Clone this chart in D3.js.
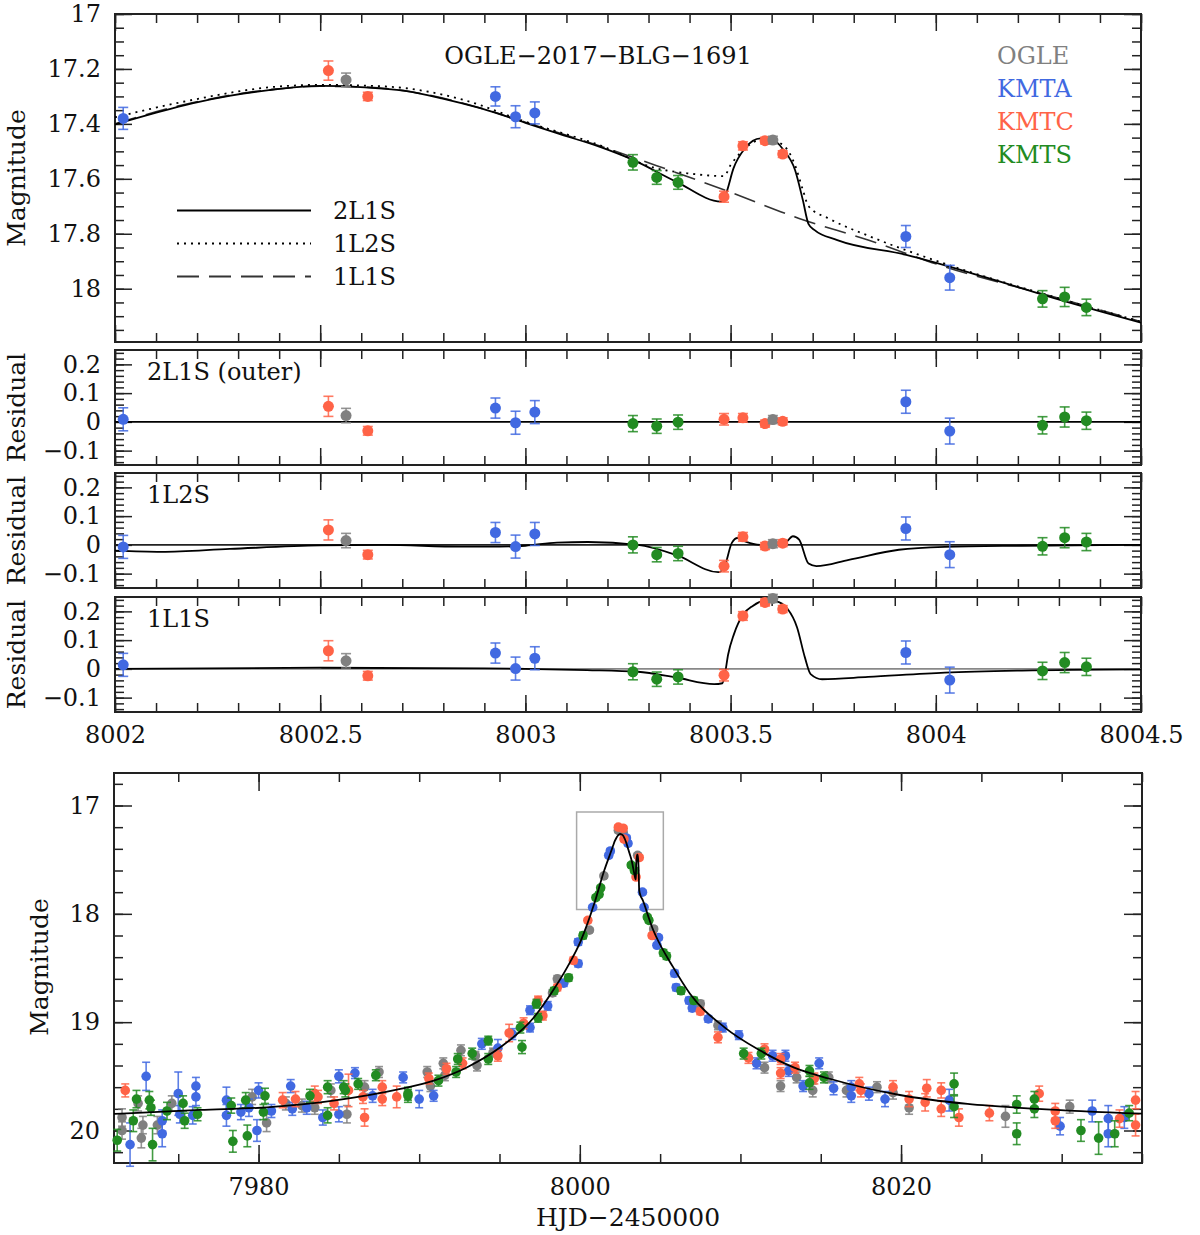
<!DOCTYPE html>
<html>
<head>
<meta charset="utf-8">
<script src="https://cdn.jsdelivr.net/npm/d3@7"></script>
<style>
  body { margin: 0; background: #fff; }
  svg text { font-family: "DejaVu Serif", serif; }
</style>
</head>
<body>
<script>
// ---- data: zoom on the anomaly (top + residual panels) ----
const zoomSurvey = ["KMTA","KMTC","OGLE","KMTC","KMTA","KMTA","KMTA","KMTS","KMTS","KMTS",
                    "KMTC","KMTC","KMTC","OGLE","KMTC","KMTA","KMTA","KMTS","KMTS","KMTS"];
const zoomT   = [8002.02, 8002.52, 8002.563, 8002.616, 8002.927, 8002.976, 8003.023, 8003.262, 8003.32, 8003.372,
                 8003.484, 8003.53, 8003.584, 8003.603, 8003.627, 8003.927, 8004.034, 8004.26, 8004.314, 8004.367];
const zoomMag = [17.38, 17.206, 17.24, 17.30, 17.30, 17.374, 17.36, 17.54, 17.595, 17.613,
                 17.665, 17.48, 17.461, 17.459, 17.51, 17.81, 17.96, 18.037, 18.03, 18.068];
const zoomErr = [0.04, 0.035, 0.025, 0.015, 0.035, 0.04, 0.04, 0.028, 0.025, 0.025,
                 0.02, 0.015, 0.012, 0.014, 0.012, 0.04, 0.045, 0.03, 0.035, 0.03];
const res2L1S = [0.009, 0.054, 0.022, -0.031, 0.048, -0.003, 0.034, -0.006, -0.015, -0.001,
                 0.009, 0.014, -0.006, 0.008, 0.002, 0.07, -0.032, -0.012, 0.017, 0.004];
const res1L2S = [-0.007, 0.052, 0.015, -0.034, 0.043, -0.006, 0.038, 0.0, -0.034, -0.03,
                 -0.074, 0.028, -0.004, 0.004, 0.006, 0.057, -0.034, -0.005, 0.025, 0.01];
const res1L1S = [0.014, 0.063, 0.028, -0.024, 0.055, 0.001, 0.037, -0.01, -0.036, -0.028,
                 -0.022, 0.184, 0.231, 0.245, 0.208, 0.057, -0.039, -0.007, 0.022, 0.007];

// model curves
const m2L1S_t = [8002.0, 8002.094, 8002.188, 8002.282, 8002.375, 8002.5, 8002.609, 8002.703, 8002.796, 8002.89,
                 8003.0, 8003.077, 8003.18, 8003.262, 8003.367, 8003.477, 8003.489, 8003.507, 8003.535, 8003.573,
                 8003.597, 8003.629, 8003.657, 8003.676, 8003.69, 8003.704, 8003.76, 8003.928, 8004.116, 8004.303, 8004.5];
const m2L1S_m = [17.402, 17.362, 17.325, 17.297, 17.277, 17.262, 17.267, 17.279, 17.307, 17.343,
                 17.396, 17.434, 17.483, 17.531, 17.61, 17.683, 17.653, 17.562, 17.489, 17.453,
                 17.453, 17.495, 17.568, 17.677, 17.765, 17.786, 17.823, 17.877, 17.956, 18.041, 18.124];
const m1L2S_t = [8002.0, 8002.188, 8002.375, 8002.5, 8002.66, 8002.85, 8003.0, 8003.18, 8003.32, 8003.395,
                 8003.484, 8003.5, 8003.53, 8003.585, 8003.63, 8003.657, 8003.676, 8003.69, 8003.74, 8003.835,
                 8004.022, 8004.3, 8004.5];
const m1L2S_m = [17.376, 17.313, 17.267, 17.258, 17.264, 17.313, 17.392, 17.477, 17.562, 17.58,
                 17.59, 17.55, 17.497, 17.453, 17.48, 17.55, 17.64, 17.70, 17.745, 17.807,
                 17.909, 18.035, 18.12];
const m1L1S_t = [8002.0, 8002.188, 8002.375, 8002.5, 8002.609, 8002.703, 8002.796, 8002.89, 8003.0, 8003.18,
                 8003.32, 8003.489, 8003.667, 8003.835, 8004.022, 8004.3, 8004.5];
const m1L1S_m = [17.400, 17.323, 17.276, 17.263, 17.266, 17.279, 17.305, 17.342, 17.394, 17.48,
                 17.552, 17.643, 17.744, 17.823, 17.92, 18.035, 18.12];

// residual model curves
const r1L2S_t = [8002.0, 8002.113, 8002.28, 8002.5, 8002.656, 8002.843, 8002.937, 8003.0, 8003.077, 8003.152,
                 8003.274, 8003.367, 8003.47, 8003.484, 8003.503, 8003.517, 8003.535, 8003.573, 8003.629, 8003.652,
                 8003.667, 8003.69, 8003.709, 8003.788, 8003.91, 8004.022, 8004.209, 8004.5];
const r1L2S_v = [-0.02, -0.024, -0.014, -0.002, 0.0, -0.006, -0.006, -0.003, 0.008, 0.01,
                 0.0, -0.035, -0.095, -0.08, 0.007, 0.024, 0.012, 0.0, 0.002, 0.03,
                 0.018, -0.065, -0.074, -0.052, -0.017, -0.007, -0.003, 0.0];
const r1L1S_t = [8002.0, 8002.5, 8002.9, 8003.0, 8003.15, 8003.274, 8003.367, 8003.46, 8003.48, 8003.486,
                 8003.494, 8003.508, 8003.53, 8003.554, 8003.582, 8003.61, 8003.639, 8003.662, 8003.681, 8003.695,
                 8003.723, 8003.835, 8004.022, 8004.21, 8004.5];
const r1L1S_v = [0.0, 0.004, 0.002, 0.0, -0.004, -0.01, -0.03, -0.053, -0.05, -0.019,
                 0.05, 0.12, 0.188, 0.219, 0.237, 0.235, 0.208, 0.144, 0.04, -0.018,
                 -0.036, -0.028, -0.013, -0.006, -0.002];

// ---- data: full light curve (bottom panel), [HJD', mag, err] ----
const ogleData = [[7971.5,19.88,0.08],[7971.5,20.0,0.08],[7972.5,19.75,0.07],[7972.7,20.07,0.09],[7972.8,19.95,0.08],
  [7973.7,19.95,0.08],[7974.6,19.75,0.07],[7979.6,19.69,0.07],[7980.5,19.93,0.08],[7981.7,19.75,0.06],
  [7982.7,19.77,0.06],[7983.5,19.79,0.06],[7984.5,19.63,0.06],[7985.5,19.85,0.08],[7986.6,19.60,0.06],
  [7987.5,19.46,0.05],[7990.5,19.46,0.05],[7990.7,19.59,0.05],[7991.5,19.38,0.05],[7991.6,19.49,0.05],
  [7992.6,19.26,0.05],[7993.5,19.31,0.04],[7993.6,19.40,0.05],[7994.6,19.28,0.04],[7998.3,18.73,0.03],
  [7998.6,18.60,0.03],[8000.6,18.15,0.02],[8001.5,17.65,0.02],[8002.4,17.23,0.02],[8002.7,17.25,0.02],
  [8003.6,17.46,0.02],[8004.6,18.14,0.02],[8007.5,18.83,0.03],[8008.6,19.03,0.04],[8011.5,19.42,0.05],
  [8012.5,19.59,0.05],[8013.5,19.51,0.05],[8014.5,19.63,0.06],[8015.5,19.51,0.05],[8016.6,19.63,0.06],
  [8018.5,19.60,0.05],[8019.5,19.65,0.06],[8020.5,19.79,0.06],[8026.5,19.87,0.1],[8030.5,19.78,0.06]];
const kmtaData = [[7972.0,20.13,0.2],[7973.0,19.50,0.13],[7974.0,19.91,0.1],[7974.0,20.03,0.12],[7975.0,19.66,0.2],
  [7975.1,19.85,0.08],[7975.9,19.86,0.08],[7976.1,19.59,0.08],[7976.1,19.69,0.08],[7978.0,19.72,0.12],
  [7978.0,19.86,0.1],[7978.9,19.83,0.07],[7979.4,19.79,0.08],[7980.0,19.63,0.07],[7979.9,20.0,0.1],
  [7980.8,19.82,0.06],[7982.0,19.59,0.06],[7982.1,19.80,0.06],[7983.0,19.79,0.06],[7984.0,19.88,0.07],
  [7985.0,19.50,0.06],[7985.0,19.85,0.07],[7986.0,19.47,0.05],[7987.1,19.68,0.06],[7989.0,19.51,0.05],
  [7990.0,19.71,0.08],[7990.9,19.68,0.05],[7993.9,19.20,0.05],[7994.9,19.24,0.08],[7995.8,19.11,0.05],
  [7996.9,19.05,0.04],[7996.9,18.89,0.04],[7998.0,18.85,0.04],[7999.0,18.64,0.03],[7999.9,18.46,0.03],
  [7999.9,18.26,0.03],[8000.8,17.94,0.02],[8001.8,17.46,0.02],[8001.9,17.42,0.02],[8002.9,17.30,0.02],
  [8003.0,17.35,0.02],[8003.9,17.80,0.02],[8004.0,17.94,0.02],[8004.9,18.22,0.02],[8004.8,18.29,0.02],
  [8005.9,18.55,0.03],[8006.0,18.68,0.03],[8006.8,18.80,0.03],[8007.0,18.87,0.03],[8008.0,18.97,0.03],
  [8008.9,19.05,0.04],[8009.9,19.12,0.04],[8011.0,19.38,0.05],[8012.0,19.31,0.05],[8012.8,19.31,0.05],
  [8013.0,19.45,0.05],[8013.9,19.59,0.05],[8014.9,19.38,0.05],[8015.8,19.61,0.06],[8016.9,19.60,0.06],
  [8016.9,19.68,0.06],[8018.0,19.66,0.06],[8019.0,19.71,0.07],[8023.0,19.72,0.1],[8029.9,19.96,0.08],
  [8031.9,19.82,0.1],[8032.9,19.89,0.12],[8032.9,20.03,0.12],[8033.9,19.88,0.1]];
const kmtcData = [[7971.7,19.63,0.06],[7981.5,19.72,0.07],[7982.3,19.71,0.07],[7983.5,19.66,0.07],[7983.7,19.69,0.06],
  [7984.7,19.75,0.06],[7985.6,19.63,0.15],[7986.5,19.69,0.06],[7986.6,19.88,0.08],[7987.7,19.71,0.06],
  [7987.7,19.60,0.06],[7988.6,19.69,0.1],[7990.6,19.52,0.05],[7991.7,19.43,0.05],[7992.7,19.38,0.05],
  [7994.9,19.31,0.05],[7995.6,19.10,0.08],[7996.5,19.01,0.05],[7997.4,18.80,0.04],[7997.7,18.94,0.04],
  [7998.6,18.68,0.03],[7999.6,18.43,0.03],[8000.5,18.06,0.02],[8002.4,17.20,0.02],[8002.7,17.21,0.02],
  [8002.75,17.31,0.02],[8003.5,17.66,0.02],[8003.7,17.48,0.02],[8004.5,18.20,0.02],[8007.5,18.90,0.03],
  [8008.6,19.14,0.05],[8010.5,19.33,0.05],[8011.5,19.25,0.05],[8012.5,19.34,0.05],[8012.5,19.47,0.05],
  [8013.4,19.42,0.05],[8014.6,19.52,0.05],[8017.4,19.57,0.06],[8017.5,19.63,0.06],[8019.5,19.60,0.06],
  [8020.5,19.71,0.07],[8021.6,19.61,0.08],[8021.5,19.74,0.08],[8022.5,19.63,0.07],[8022.5,19.80,0.07],
  [8023.6,19.88,0.08],[8025.5,19.84,0.07],[8028.6,19.66,0.07],[8029.6,19.82,0.07],[8029.6,19.91,0.07],
  [8033.6,19.89,0.08],[8034.6,19.72,0.08],[8034.6,19.95,0.1]];
const kmtsData = [[7971.2,20.09,0.1],[7972.2,19.91,0.1],[7972.4,19.71,0.08],[7973.2,19.72,0.08],[7973.3,19.79,0.07],
  [7973.4,20.13,0.15],[7974.3,19.82,0.08],[7975.3,19.75,0.07],[7975.4,19.91,0.07],[7976.2,19.85,0.06],
  [7978.3,19.77,0.07],[7978.4,20.10,0.1],[7979.2,19.72,0.07],[7979.3,20.05,0.1],[7980.3,19.83,0.07],
  [7980.4,19.68,0.07],[7983.2,19.68,0.06],[7984.3,19.60,0.06],[7984.3,19.86,0.07],[7985.3,19.60,0.06],
  [7985.4,19.63,0.06],[7986.2,19.57,0.05],[7987.3,19.49,0.05],[7989.3,19.68,0.06],[7989.3,19.66,0.06],
  [7991.2,19.54,0.05],[7992.3,19.46,0.05],[7992.4,19.34,0.05],[7993.3,19.29,0.05],[7994.3,19.17,0.04],
  [7994.3,19.34,0.05],[7996.4,19.23,0.06],[7996.3,19.05,0.05],[7997.3,18.83,0.04],[7997.4,18.96,0.04],
  [7998.4,18.71,0.03],[7999.3,18.59,0.03],[8000.2,18.20,0.03],[8001.0,17.85,0.02],[8001.2,17.82,0.02],
  [8001.3,17.76,0.02],[8003.2,17.55,0.02],[8003.4,17.60,0.02],[8004.2,18.03,0.02],[8004.3,18.06,0.02],
  [8005.2,18.36,0.03],[8005.4,18.39,0.03],[8006.3,18.71,0.03],[8007.1,18.80,0.03],[8010.2,19.29,0.05],
  [8011.3,19.29,0.05],[8014.3,19.45,0.05],[8014.3,19.56,0.06],[8015.2,19.51,0.05],[8023.3,19.57,0.1],
  [8023.3,19.78,0.1],[8027.2,19.76,0.08],[8027.2,20.03,0.1],[8028.3,19.71,0.07],[8028.3,19.80,0.08],
  [8031.2,20.00,0.1],[8032.3,20.07,0.15],[8033.3,20.03,0.12],[8034.2,19.84,0.07]];

// 2L1S model outside the zoomed window
const wideT = [7971.0, 7976.36, 7980.52, 7984.67, 7988.83, 7990.91, 7992.99, 7995.07, 7997.15, 7998.19,
               7999.23, 8000.06, 8000.89, 8001.52,
               8004.72, 8005.8, 8006.87, 8009.03, 8011.2, 8013.35, 8015.5, 8019.84, 8024.14, 8028.47, 8035.0];
const wideMag = [19.847, 19.81, 19.786, 19.724, 19.616, 19.54, 19.416, 19.23, 18.955, 18.74,
                 18.49, 18.25, 17.91, 17.60,
                 18.20, 18.49, 18.74, 19.05, 19.26, 19.42, 19.52, 19.67, 19.755, 19.80, 19.845];

const surveys = ["OGLE", "KMTA", "KMTC", "KMTS"];
const colors = {OGLE: "#808080", KMTA: "#4169E1", KMTC: "#FF6347", KMTS: "#228B22"};

// ---- layout ----
const FONT = "DejaVu Serif";
const svg = d3.select("body").append("svg").attr("width", 1200).attr("height", 1235);

const L = 115, R = 1141;
const xZoom = d3.scaleLinear().domain([8002, 8004.5]).range([0, R - L]);
const zoomXMajor = [8002, 8002.5, 8003, 8003.5, 8004, 8004.5];
const zoomXMinor = d3.range(0, 26).map(i => 8002 + i * 0.1);

function panel(left, top, w, h, xs, ys, o) {
  const g = svg.append("g").attr("transform", `translate(${left},${top})`);
  const add = (axis, tr) => {
    const a = g.append("g").attr("transform", tr).call(axis);
    a.select(".domain").remove();
    a.attr("color", "#222").attr("font-family", FONT).attr("font-size", 24);
    a.selectAll("line").attr("stroke-width", 1.5);
    a.selectAll("text").attr("fill", "#111");
    return a;
  };
  const none = () => "";
  add(d3.axisBottom(xs).tickValues(o.xMinor).tickSize(-o.minor).tickFormat(none), `translate(0,${h})`);
  add(d3.axisBottom(xs).tickValues(o.xMajor).tickSize(-o.major).tickPadding(o.xPad || 14)
        .tickFormat(o.xFmt || none), `translate(0,${h})`);
  add(d3.axisTop(xs).tickValues(o.xMinor).tickSize(-o.minor).tickFormat(none), "translate(0,0)");
  add(d3.axisTop(xs).tickValues(o.xMajor).tickSize(-o.major).tickFormat(none), "translate(0,0)");
  add(d3.axisLeft(ys).tickValues(o.yMinor).tickSize(-o.minor).tickFormat(none), "translate(0,0)");
  add(d3.axisLeft(ys).tickValues(o.yMajor).tickSize(-o.major).tickPadding(14).tickFormat(o.yFmt), "translate(0,0)");
  add(d3.axisRight(ys).tickValues(o.yMinor).tickSize(-o.minor).tickFormat(none), `translate(${w},0)`);
  add(d3.axisRight(ys).tickValues(o.yMajor).tickSize(-o.major).tickFormat(none), `translate(${w},0)`);
  g.append("rect").attr("width", w).attr("height", h)
    .attr("fill", "none").attr("stroke", "#222").attr("stroke-width", 2);
  return g;
}

function errPoints(g, pts, xs, ys, r, cap) {
  const p = g.selectAll(null).data(pts).enter().append("g");
  p.append("line")
    .attr("x1", d => xs(d.t)).attr("x2", d => xs(d.t))
    .attr("y1", d => ys(d.v - d.e)).attr("y2", d => ys(d.v + d.e));
  p.append("line")
    .attr("x1", d => xs(d.t) - cap).attr("x2", d => xs(d.t) + cap)
    .attr("y1", d => ys(d.v - d.e)).attr("y2", d => ys(d.v - d.e));
  p.append("line")
    .attr("x1", d => xs(d.t) - cap).attr("x2", d => xs(d.t) + cap)
    .attr("y1", d => ys(d.v + d.e)).attr("y2", d => ys(d.v + d.e));
  p.selectAll("line").attr("stroke", d => colors[d.s]).attr("stroke-width", 1.6).attr("stroke-opacity", 0.85);
  p.append("circle").attr("cx", d => xs(d.t)).attr("cy", d => ys(d.v)).attr("r", r)
    .attr("fill", d => colors[d.s]);
}

function curve(g, ts, vs, xs, ys, style) {
  const line = d3.line().x(d => xs(d[0])).y(d => ys(d[1])).curve(d3.curveMonotoneX);
  g.append("path").datum(ts.map((t, i) => [t, vs[i]]))
    .attr("d", line).attr("fill", "none")
    .attr("stroke", style.color || "#000").attr("stroke-width", style.width || 1.8)
    .attr("stroke-dasharray", style.dash || null);
}

// ---- top panel: zoomed light curve ----
const topH = 328;
const yTop = d3.scaleLinear().domain([17, 18.194]).range([0, topH]);
const gTop = panel(L, 14, R - L, topH, xZoom, yTop, {
  xMajor: zoomXMajor, xMinor: zoomXMinor, major: 17, minor: 9,
  yMajor: [17, 17.2, 17.4, 17.6, 17.8, 18], yMinor: d3.range(0, 24).map(i => 17 + i * 0.05),
  yFmt: d => String(+d.toFixed(1))
});
curve(gTop, m1L1S_t, m1L1S_m, xZoom, yTop, {dash: "22,10", color: "#333", width: 1.6});
curve(gTop, m1L2S_t, m1L2S_m, xZoom, yTop, {dash: "2,5", width: 1.8});
curve(gTop, m2L1S_t, m2L1S_m, xZoom, yTop, {width: 1.8});
errPoints(gTop, zoomT.map((t, i) => ({t, v: zoomMag[i], e: zoomErr[i], s: zoomSurvey[i]})),
  xZoom, yTop, 5.5, 5);

gTop.append("text").attr("x", 483).attr("y", 50).attr("text-anchor", "middle")
  .attr("font-size", 24).attr("fill", "#111").text("OGLE−2017−BLG−1691");
surveys.forEach((s, i) => {
  gTop.append("text").attr("x", 882).attr("y", 50 + i * 33)
    .attr("font-size", 24).attr("fill", colors[s]).text(s);
});
const modelLegend = [["2L1S", null, "#000"], ["1L2S", "2,5", "#000"], ["1L1S", "22,10", "#333"]];
modelLegend.forEach((m, i) => {
  const y = 196.5 + i * 33;
  gTop.append("line").attr("x1", 62).attr("x2", 196).attr("y1", y).attr("y2", y)
    .attr("stroke", m[2]).attr("stroke-width", 1.8).attr("stroke-dasharray", m[1]);
  gTop.append("text").attr("x", 218).attr("y", y + 8).attr("font-size", 24).attr("fill", "#111").text(m[0]);
});
svg.append("text").attr("transform", "translate(25,178) rotate(-90)").attr("text-anchor", "middle")
  .attr("font-size", 25).attr("fill", "#111").text("Magnitude");

// ---- residual panels ----
const resH = 115;
const yRes = d3.scaleLinear().domain([0.25, -0.15]).range([0, resH]);
const resPanels = [
  {top: 350, label: "2L1S (outer)", res: res2L1S, zeroColor: "#000", ct: null, cv: null},
  {top: 473, label: "1L2S", res: res1L2S, zeroColor: "#222", ct: r1L2S_t, cv: r1L2S_v},
  {top: 597, label: "1L1S", res: res1L1S, zeroColor: "#888", ct: r1L1S_t, cv: r1L1S_v}
];
resPanels.forEach((p, k) => {
  const last = k === resPanels.length - 1;
  const g = panel(L, p.top, R - L, resH, xZoom, yRes, {
    xMajor: zoomXMajor, xMinor: zoomXMinor, major: 17, minor: 9,
    yMajor: [-0.1, 0, 0.1, 0.2], yMinor: d3.range(-7, 13).map(i => i * 0.02),
    yFmt: d => d === 0 ? "0" : d3.format(".1f")(d),
    xFmt: last ? (d => String(d)) : null, xPad: 14
  });
  g.append("line").attr("x1", 0).attr("x2", R - L).attr("y1", yRes(0)).attr("y2", yRes(0))
    .attr("stroke", p.zeroColor).attr("stroke-width", 1.6);
  if (p.ct) curve(g, p.ct, p.cv, xZoom, yRes, {width: 1.8});
  errPoints(g, zoomT.map((t, i) => ({t, v: p.res[i], e: zoomErr[i], s: zoomSurvey[i]})),
    xZoom, yRes, 5.5, 5);
  g.append("text").attr("x", 32).attr("y", 30).attr("font-size", 24).attr("fill", "#111").text(p.label);
  svg.append("text").attr("transform", `translate(25,${p.top + resH / 2}) rotate(-90)`)
    .attr("text-anchor", "middle").attr("font-size", 25).attr("fill", "#111").text("Residual");
});

// ---- bottom panel: full light curve ----
const bL = 114, bTop = 773, bW = 1142 - 114, bH = 390;
const xFull = d3.scaleLinear().domain([7971, 8035]).range([0, bW]);
const yFull = d3.scaleLinear().domain([16.7, 20.3]).range([0, bH]);
const gBot = panel(bL, bTop, bW, bH, xFull, yFull, {
  xMajor: [7980, 8000, 8020], xMinor: d3.range(7975, 8036, 5), major: 18, minor: 9,
  yMajor: [17, 18, 19, 20], yMinor: d3.range(0, 18).map(i => 16.8 + i * 0.2),
  yFmt: d => String(d), xFmt: d => String(d), xPad: 15
});
// highlight box around the anomaly window
gBot.append("rect")
  .attr("x", xFull(7999.8)).attr("y", yFull(17.06))
  .attr("width", xFull(8005.2) - xFull(7999.8)).attr("height", yFull(17.96) - yFull(17.06))
  .attr("fill", "none").attr("stroke", "#aaa").attr("stroke-width", 1.5);

const allData = {OGLE: ogleData, KMTA: kmtaData, KMTC: kmtcData, KMTS: kmtsData};
surveys.forEach(s => {
  errPoints(gBot, allData[s].map(d => ({t: d[0], v: d[1], e: d[2], s})), xFull, yFull, 4.8, 4);
});
// full model: wide part + the zoomed 2L1S segment
const fullModel = wideT.map((t, i) => [t, wideMag[i]])
  .concat(m2L1S_t.map((t, i) => [t, m2L1S_m[i]]))
  .sort((a, b) => a[0] - b[0]);
curve(gBot, fullModel.map(d => d[0]), fullModel.map(d => d[1]), xFull, yFull, {width: 1.8});

svg.append("text").attr("transform", "translate(48,967) rotate(-90)").attr("text-anchor", "middle")
  .attr("font-size", 25).attr("fill", "#111").text("Magnitude");
svg.append("text").attr("x", 628).attr("y", 1226).attr("text-anchor", "middle")
  .attr("font-size", 25).attr("fill", "#111").text("HJD−2450000");
</script>
</body>
</html>
